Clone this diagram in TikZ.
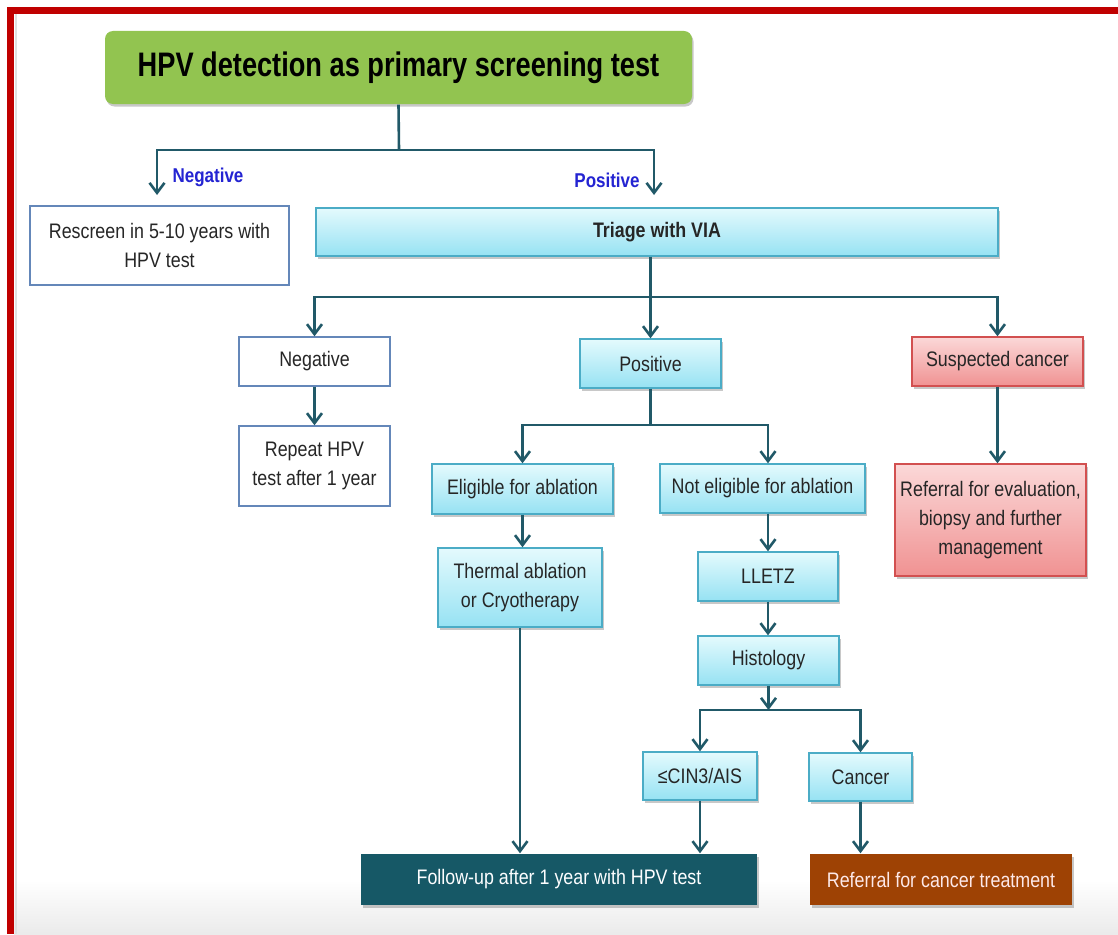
\documentclass[tikz,border=0pt]{standalone}
\usepackage{fontspec}
\setmainfont{Liberation Sans}[FakeStretch=0.85]
\newfontfamily\headfont{Liberation Sans}[FakeStretch=0.8]
\usepackage{tikz}
\usetikzlibrary{arrows.meta,shadows}
\definecolor{framered}{RGB}{192,0,0}
\definecolor{linkteal}{RGB}{33,89,104}
\definecolor{leafgreen}{RGB}{146,196,80}
\definecolor{aquaedge}{RGB}{75,172,198}
\definecolor{aquatop}{RGB}{228,250,253}
\definecolor{aquabot}{RGB}{150,226,243}
\definecolor{rosetop}{RGB}{251,216,216}
\definecolor{rosebot}{RGB}{240,146,146}
\definecolor{roseedge}{RGB}{210,80,80}
\definecolor{slateedge}{RGB}{100,135,185}
\definecolor{labelblue}{RGB}{36,36,210}
\definecolor{deepteal}{RGB}{22,88,102}
\definecolor{rust}{RGB}{158,66,4}
\definecolor{inktext}{RGB}{38,38,38}
\tikzstyle{box}=[line width=1.4pt, minimum height=49pt, inner sep=0pt, align=center, font=\fontsize{21}{29}\selectfont, text=inktext]
\tikzstyle{boxshadow}=[drop shadow={shadow xshift=1.5pt, shadow yshift=-2.5pt, opacity=.3, fill=black!70}]
\tikzstyle{plain}=[box, draw=slateedge, fill=white]
\tikzstyle{aqua}=[box, boxshadow, draw=aquaedge, top color=aquatop, bottom color=aquabot]
\tikzstyle{rose}=[box, boxshadow, draw=roseedge, top color=rosetop, bottom color=rosebot]
\tikzstyle{dark}=[box, boxshadow, draw=none, minimum height=51pt]
\tikzstyle{tag}=[font=\bfseries\fontsize{20}{24}\selectfont, text=labelblue, inner sep=0pt]
\tikzstyle{link}=[draw=linkteal, line width=2.6pt]
\tikzstyle{flow}=[link, -{Straight Barb[length=10pt,width=15pt]}]

\begin{document}
\begin{tikzpicture}[x=1pt, y=-1pt]
	\useasboundingbox (0,0) rectangle (1118,934);
	\fill[white] (0,0) rectangle (1118,934);
	\shade[top color=white, bottom color=black!8] (14,880) rectangle (1118,934);
	\draw[black!12, line width=2pt] (16,14) -- (16,934);
	\fill[framered] (7,7) rectangle (1118,14);
	\fill[framered] (7,7) rectangle (14,934);
%
	\node[box, boxshadow, fill=leafgreen, rounded corners=8pt, minimum width=587pt, minimum height=73pt, text=black, font=\headfont\bfseries\fontsize{34}{40}\selectfont] (hpv) at (398.5,67.5) {HPV detection as primary screening test};
	\node[plain, minimum width=259pt, minimum height=79pt] (rescreen) at (159.5,245.5) {Rescreen in 5-10 years with\\HPV test};
	\node[aqua, minimum width=682pt, minimum height=48pt] (triage) at (657,232) {\bfseries Triage with VIA};
%
	\node[plain, minimum width=151pt] (vianeg) at (314.5,361.5) {Negative};
	\node[aqua, minimum width=141pt] (viapos) at (650.5,363.5) {Positive};
	\node[rose, minimum width=171pt] (suspect) at (997.5,361.5) {Suspected cancer};
	\node[plain, minimum width=151pt, minimum height=80pt] (repeat) at (314.5,466) {Repeat HPV\\test after 1 year};
	\node[aqua, minimum width=181pt, minimum height=50pt] (elig) at (522.5,489) {Eligible for ablation};
	\node[aqua, minimum width=205pt] (noelig) at (762.5,488.5) {Not eligible for ablation};
	\node[rose, minimum width=191pt, minimum height=112pt] (evalref) at (990.5,520) {Referral for evaluation,\\biopsy and further\\management};
	\node[aqua, minimum width=164pt, minimum height=79pt] (ablate) at (520,587.5) {Thermal ablation\\or Cryotherapy};
	\node[aqua, minimum width=140pt] (lletz) at (768,576.5) {LLETZ};
	\node[aqua, minimum width=141pt] (histo) at (768.5,660.5) {Histology};
	\node[aqua, minimum width=114pt, minimum height=48pt] (cin) at (700,776) {≤CIN3/AIS};
	\node[aqua, minimum width=103pt, minimum height=48pt] (cancer) at (860.5,777) {Cancer};
	\node[dark, fill=deepteal, text=white!92!aquatop, minimum width=396pt] (followup) at (559,879.5) {Follow-up after 1 year with HPV test};
	\node[dark, fill=rust, text=rosetop!60!white, minimum width=262pt] (treatref) at (941,879.5) {Referral for cancer treatment};
%
	\coordinate (topfork) at (399,150);
	\coordinate (negend) at (157,195);
	\coordinate (posend) at (654,195);
	\draw[link] (hpv.south) -- (topfork);
	\draw[flow] (topfork) -| (negend);
	\draw[flow] (topfork) -| (posend);
	\node[tag] (negtag) at (208,177) {Negative};
	\node[tag] (postag) at (607,180) {Positive};
%
	\coordinate (viafork) at (650.5,297);
	\draw[link] (viapos.north |- triage.south) -- (viafork);
	\draw[flow] (viafork) -| (vianeg.north);
	\draw[flow] (viafork) -- (viapos.north);
	\draw[flow] (viafork) -| (suspect.north);
	\draw[flow] (vianeg.south) -- (repeat.north);
	\draw[flow] (suspect.south) -- (suspect.south |- evalref.north);
%
	\coordinate (ablfork) at (650.5,425);
	\draw[link] (viapos.south) -- (ablfork);
	\draw[flow] (ablfork) -| (elig.north);
	\draw[flow] (ablfork) -| (lletz.north |- noelig.north);
	\draw[flow] (elig.south) -- (elig.south |- ablate.north);
	\draw[flow] (lletz.north |- noelig.south) -- (lletz.north);
	\draw[flow] (lletz.south) -- (lletz.south |- histo.north);
%
	\coordinate (histfork) at (768.5,710);
	\draw[flow] (histo.south) -- (histfork);
	\draw[flow] (histfork) -| (cin.north);
	\draw[flow] (histfork) -| (cancer.north);
	\draw[flow] (ablate.south) -- (ablate.south |- followup.north);
	\draw[flow] (cin.south) -- (cin.south |- followup.north);
	\draw[flow] (cancer.south) -- (cancer.south |- treatref.north);
\end{tikzpicture}
\end{document}
